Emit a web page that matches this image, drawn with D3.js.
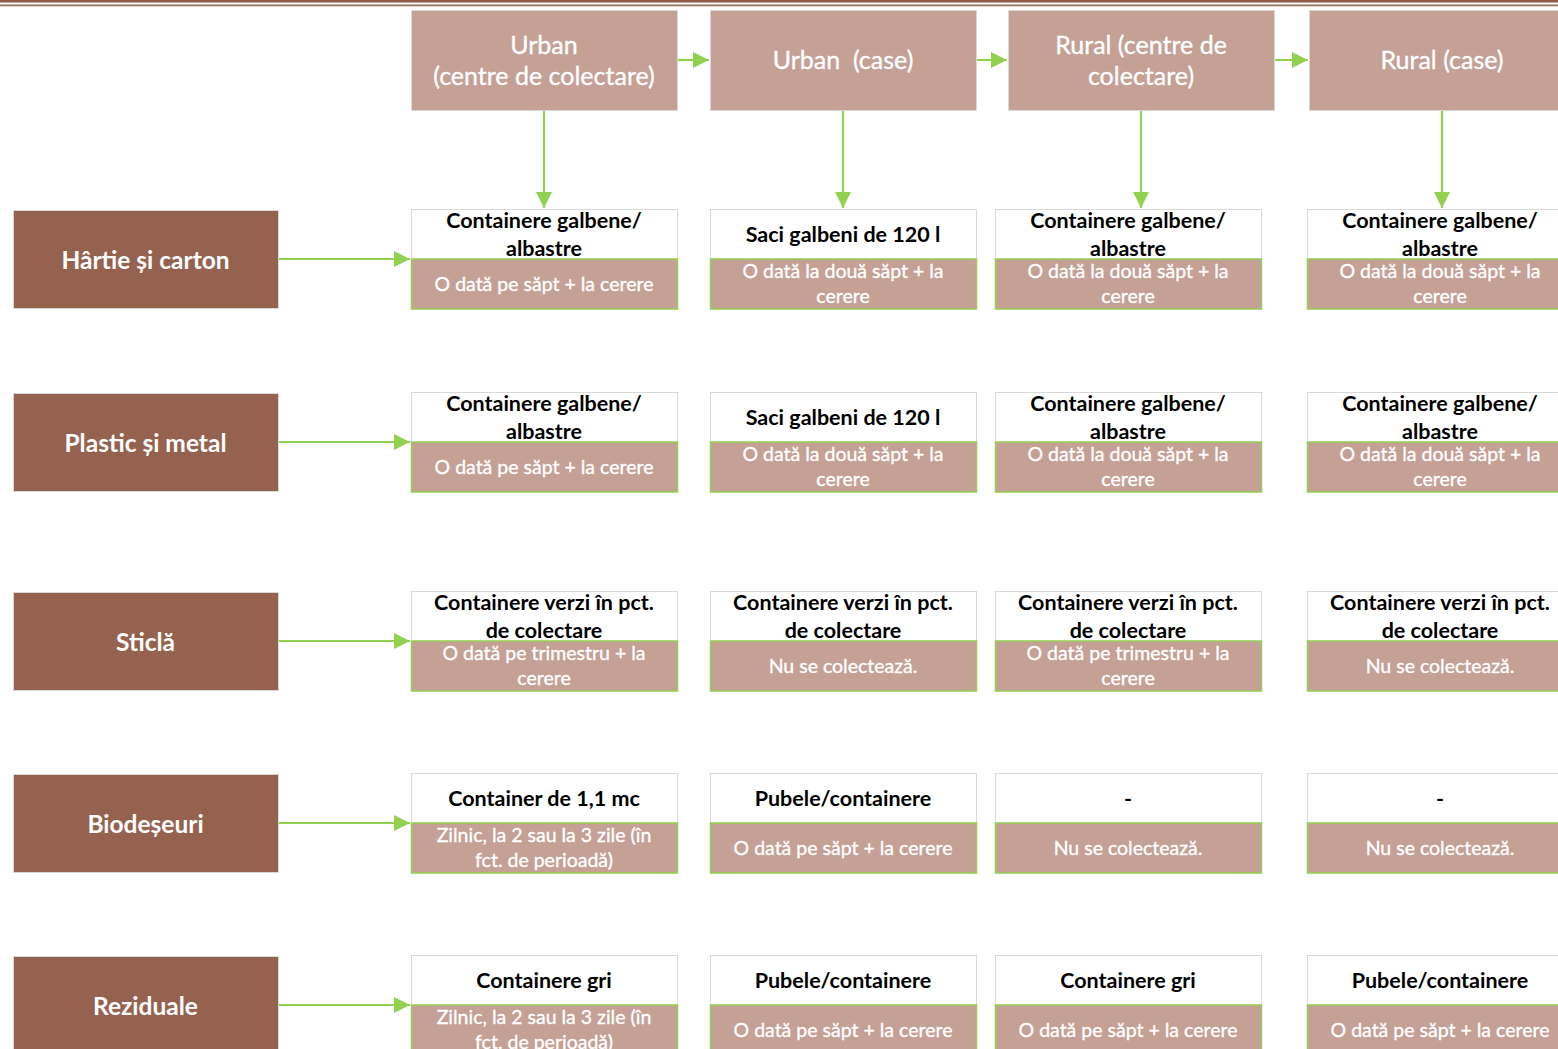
<!DOCTYPE html>
<html><head><meta charset="utf-8">
<script src="https://cdn.jsdelivr.net/npm/d3@7"></script>
<style>
html,body{margin:0;padding:0;background:#fff;overflow:hidden;}
svg{display:block;font-family:Lato,"Open Sans",sans-serif;}
</style></head>
<body>
<svg id="chart" width="1558" height="1049"></svg>
<script>
// ---- data ----
const columns = ["Urban\n(centre de colectare)", "Urban  (case)", "Rural (centre de\ncolectare)", "Rural (case)"];
const categories = ["Hârtie și carton", "Plastic și metal", "Sticlă", "Biodeșeuri", "Reziduale"];
const containerTexts = [
  ["Containere galbene/\nalbastre", "Saci galbeni de 120 l", "Containere galbene/\nalbastre", "Containere galbene/\nalbastre"],
  ["Containere galbene/\nalbastre", "Saci galbeni de 120 l", "Containere galbene/\nalbastre", "Containere galbene/\nalbastre"],
  ["Containere verzi în pct.\nde colectare", "Containere verzi în pct.\nde colectare", "Containere verzi în pct.\nde colectare", "Containere verzi în pct.\nde colectare"],
  ["Container de 1,1 mc", "Pubele/containere", "-", "-"],
  ["Containere gri", "Pubele/containere", "Containere gri", "Pubele/containere"]
];
const frequencyTexts = [
  ["O dată pe săpt + la cerere", "O dată la două săpt + la\ncerere", "O dată la două săpt + la\ncerere", "O dată la două săpt + la\ncerere"],
  ["O dată pe săpt + la cerere", "O dată la două săpt + la\ncerere", "O dată la două săpt + la\ncerere", "O dată la două săpt + la\ncerere"],
  ["O dată pe trimestru + la\ncerere", "Nu se colectează.", "O dată pe trimestru + la\ncerere", "Nu se colectează."],
  ["Zilnic, la 2 sau la 3 zile (în\nfct. de perioadă)", "O dată pe săpt + la cerere", "Nu se colectează.", "Nu se colectează."],
  ["Zilnic, la 2 sau la 3 zile (în\nfct. de perioadă)", "O dată pe săpt + la cerere", "O dată pe săpt + la cerere", "O dată pe săpt + la cerere"]
];

// ---- layout (scales) ----
const colIdx = d3.range(columns.length);
const rowIdx = d3.range(categories.length);
const headerX = d3.scaleOrdinal().domain(colIdx).range([411, 710, 1008, 1309]);
const cellX = d3.scaleOrdinal().domain(colIdx).range([411, 710, 995, 1307]);
const rowY = d3.scaleOrdinal().domain(rowIdx).range([209, 392, 591, 773, 955]);
const boxW = 266, headerTop = 10, headerH = 100, halfH = 50;
const labelX = 13, labelW = 265;

const C = {header:"#c4a095", label:"#956250", green:"#92d050", gray:"#d9d9d9", line1:"#8e5a47", line2:"#a06e5c"};

const svg = d3.select("#chart");
const defs = svg.append("defs");
defs.append("marker").attr("id","ah").attr("viewBox","0 0 10 10")
  .attr("refX",10).attr("refY",5).attr("markerWidth",16).attr("markerHeight",16)
  .attr("markerUnits","userSpaceOnUse").attr("orient","auto")
  .append("path").attr("d","M0,0L10,5L0,10Z").attr("fill",C.green);

// top rules
svg.append("rect").attr("x",0).attr("y",0).attr("width",1558).attr("height",2.5).attr("fill",C.line1);
svg.append("rect").attr("x",0).attr("y",4.5).attr("width",1558).attr("height",1.8).attr("fill",C.line2);

function multiline(g, text, cx, cy, lh, attrs){
  const lines = text.split("\n");
  const t = g.append("text").attr("text-anchor","middle");
  Object.entries(attrs).forEach(([k,v])=>t.attr(k,v));
  lines.forEach((l,i)=>{
    t.append("tspan").attr("x",cx).attr("y",cy + (i-(lines.length-1)/2)*lh)
      .attr("dominant-baseline","central").text(l);
  });
  return t;
}

// arrows first (under boxes)
const arrows = svg.append("g").attr("stroke",C.green).attr("stroke-width",2.2).attr("fill","none");
colIdx.slice(0,-1).forEach(i=>{
  arrows.append("line").attr("x1",headerX(i)+boxW).attr("y1",headerTop+headerH/2)
    .attr("x2",headerX(i+1)-1).attr("y2",headerTop+headerH/2).attr("marker-end","url(#ah)");
});
colIdx.forEach(i=>{
  const cx = headerX(i)+boxW/2;
  arrows.append("line").attr("x1",cx).attr("y1",headerTop+headerH).attr("x2",cx).attr("y2",rowY(0)-1).attr("marker-end","url(#ah)");
});
rowIdx.forEach(r=>{
  arrows.append("line").attr("x1",labelX+labelW).attr("y1",rowY(r)+halfH).attr("x2",cellX(0)-1).attr("y2",rowY(r)+halfH).attr("marker-end","url(#ah)");
});

const whiteText = {"fill":"#fff","stroke":"#fff","stroke-width":0.35};

// headers
const hg = svg.append("g");
colIdx.forEach(i=>{
  hg.append("rect").attr("x",headerX(i)+0.5).attr("y",headerTop+0.5).attr("width",boxW).attr("height",headerH)
    .attr("fill",C.header).attr("stroke",C.gray).attr("stroke-width",1);
  multiline(hg, columns[i], headerX(i)+boxW/2, headerTop+headerH/2-1, 31,
    Object.assign({"font-size":"25px","xml:space":"preserve"}, whiteText));
});

// row labels
const lg = svg.append("g");
rowIdx.forEach(r=>{
  lg.append("rect").attr("x",labelX+0.5).attr("y",rowY(r)+1.5).attr("width",labelW).attr("height",98)
    .attr("fill",C.label).attr("stroke",C.gray).attr("stroke-width",1);
  multiline(lg, categories[r], labelX+labelW/2, rowY(r)+halfH, 28,
    {"fill":"#fff","font-size":"24.5px","font-weight":"bold"});
});

// cells
const cg = svg.append("g");
rowIdx.forEach(r=>{
  colIdx.forEach(c=>{
    const x = cellX(c), y = rowY(r);
    cg.append("rect").attr("x",x+0.5).attr("y",y+0.5).attr("width",boxW).attr("height",halfH)
      .attr("fill","#fff").attr("stroke",C.gray).attr("stroke-width",1);
    cg.append("rect").attr("x",x+0.5).attr("y",y+halfH).attr("width",boxW).attr("height",halfH)
      .attr("fill",C.header).attr("stroke",C.green).attr("stroke-width",1.5);
    const top = containerTexts[r][c];
    multiline(cg, top, x+boxW/2, y + 25, 27.5,
      {"fill":"#000","font-size":"21.5px","font-weight":"bold"});
    const bot = frequencyTexts[r][c];
    multiline(cg, bot, x+boxW/2, y+halfH + 24, 25.5,
      Object.assign({"font-size":"19.5px"}, whiteText));
  });
});
</script>
</body></html>
